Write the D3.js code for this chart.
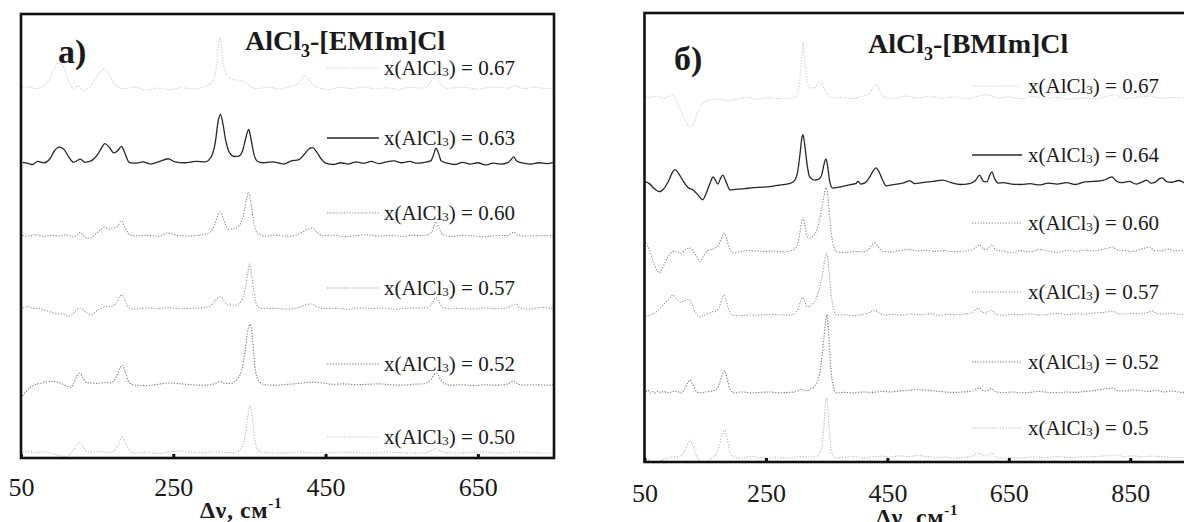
<!DOCTYPE html>
<html>
<head>
<meta charset="utf-8">
<script src="https://cdn.jsdelivr.net/npm/d3@7/dist/d3.min.js"></script>
<style>
  html, body { margin: 0; padding: 0; background: #fff; }
  svg { display: block; }
</style>
</head>
<body>
<svg id="chart" width="1184" height="522"></svg>
<script>
// ---------- data: Raman spectra, shift (cm-1) vs. relative intensity ----------
const emimShiftRange = [50, 750];
const bmimShiftRange = [50, 950];
const emimTicks = [50, 250, 450, 650];
const bmimTicks = [50, 250, 450, 650, 850];

const emimLabels = ["0.67", "0.63", "0.60", "0.57", "0.52", "0.50"];
const bmimLabels = ["0.67", "0.64", "0.60", "0.57", "0.52", "0.5"];

// vertical stacking offset of each trace (intensity units)
const emimOffsets = [83.0, 66.4, 50.0, 33.6, 16.4, 1.1];
const bmimOffsets = [80.6, 61.5, 46.8, 32.7, 15.4, 0.9];

// AlCl3-[EMIm]Cl
const emim067 = [[52,0.3],[60,0.6],[70,0.2],[80,0.9],[88,2.5],[95,5.2],[100,6.1],[106,5.0],[113,1.8],[119,0.2],[125,0.8],[132,-0.3],[140,0.5],[150,3.0],[159,4.7],[166,3.2],[174,1.0],[185,0.2],[200,0.5],[215,-0.2],[230,0.3],[245,0.0],[260,0.4],[275,0.1],[290,0.6],[300,1.5],[306,4.5],[311,11.7],[316,5.5],[323,2.7],[330,2.2],[338,2.0],[345,1.5],[352,0.6],[360,0.2],[375,0.5],[390,0.1],[405,0.8],[415,1.5],[423,3.2],[430,1.8],[440,0.4],[455,0.0],[470,0.5],[485,0.2],[500,0.6],[515,0.1],[530,0.4],[545,0.0],[560,0.5],[575,0.3],[585,0.9],[595,3.2],[602,1.0],[612,0.3],[630,0.5],[650,0.1],[670,0.6],[690,0.3],[700,0.8],[710,0.2],[725,0.5],[740,0.2],[750,0.4]];
const emim063 = [[52,0.2],[58,0],[65,-0.3],[72,0.4],[80,0.1],[88,1.0],[94,2.8],[100,3.6],[106,3.2],[112,1.6],[119,0.2],[124,0.6],[128,0.9],[134,0.2],[142,0.5],[150,1.8],[156,3.5],[160,4.4],[166,3.6],[172,2.3],[177,2.8],[182,3.8],[187,2.0],[192,0.2],[200,0.0],[210,0.3],[220,-0.2],[232,0.4],[243,1.0],[252,0.3],[265,0.1],[280,0.4],[292,0.3],[300,1.5],[305,4.5],[309,9.5],[312,11.0],[315,9.0],[319,5.0],[324,2.3],[330,1.5],[336,1.6],[341,2.8],[345,5.5],[349,7.6],[352,5.5],[356,2.0],[360,0.5],[368,0.1],[380,0.3],[395,-0.2],[405,0.5],[415,0.8],[422,2.0],[428,3.2],[433,3.5],[438,2.6],[444,1.0],[450,0.0],[460,-0.3],[470,0.1],[480,-0.2],[490,0.3],[500,0.0],[510,0.4],[520,-0.1],[530,0.3],[540,0.5],[550,0.1],[560,0.4],[570,0.0],[580,0.2],[588,0.5],[592,2.0],[595,3.4],[598,2.4],[602,0.5],[610,0.0],[620,-0.3],[630,0.2],[640,-0.2],[650,0.1],[660,-0.4],[670,0.0],[680,-0.2],[690,0.2],[694,0.9],[697,1.4],[701,0.5],[710,0.0],[720,-0.2],[730,0.1],[740,-0.1],[750,0.2]];
const emim060 = [[52,0.1],[60,0.0],[70,0.3],[80,-0.1],[90,0.2],[100,0.0],[110,0.3],[118,-0.2],[124,0.3],[128,0.8],[133,-0.3],[140,-0.5],[148,0.4],[155,1.5],[160,2.0],[166,1.5],[172,1.8],[177,2.2],[182,3.4],[187,1.8],[193,0.2],[200,0.0],[215,0.2],[230,-0.1],[243,0.7],[255,0.2],[270,0.0],[285,0.2],[298,0.8],[304,2.5],[309,4.8],[312,5.4],[316,3.8],[322,1.5],[328,1.6],[336,2.2],[342,4.5],[346,8.0],[349,9.9],[352,7.5],[356,2.8],[361,0.6],[370,0.0],[385,0.2],[400,-0.1],[412,0.3],[420,0.9],[427,1.6],[432,1.8],[438,1.0],[446,0.1],[460,0.2],[475,-0.2],[490,0.1],[505,0.3],[520,0.0],[535,0.2],[550,-0.1],[565,0.2],[578,0.1],[588,0.6],[592,2.0],[595,3.2],[599,1.8],[604,0.3],[615,-0.1],[630,0.2],[645,0.0],[660,-0.2],[675,0.1],[688,0.1],[694,0.6],[697,0.9],[702,0.2],[715,0.0],[730,0.1],[750,0.0]];
const emim057 = [[52,0.2],[58,0.5],[65,0.2],[75,0.0],[85,-0.5],[95,-1.0],[105,-1.2],[115,-1.6],[121,-0.5],[128,0.2],[134,-0.6],[142,-1.4],[150,-0.4],[160,0.4],[168,0.6],[175,1.2],[182,3.2],[187,1.8],[193,0.1],[200,-0.1],[215,0.2],[230,0.0],[245,0.3],[260,0.0],[275,0.1],[290,0.3],[300,0.8],[305,1.8],[309,2.5],[312,2.7],[316,1.9],[322,0.9],[330,0.8],[338,1.5],[343,3.5],[347,7.0],[350,10.1],[353,7.5],[357,2.5],[362,0.4],[370,0.0],[385,0.1],[400,-0.1],[415,0.3],[424,0.9],[431,1.1],[438,0.6],[448,0.0],[465,0.1],[480,-0.1],[495,0.2],[510,0.0],[525,0.2],[540,-0.1],[555,0.1],[570,0.2],[583,0.3],[590,1.2],[595,2.5],[599,1.6],[604,0.3],[615,0.0],[630,0.1],[645,-0.1],[660,0.2],[675,0.0],[688,0.2],[695,0.8],[700,1.1],[705,0.3],[715,-0.1],[725,0.1],[735,0.3],[750,0.0]];
const emim052 = [[52,-2.4],[56,-1.6],[62,-0.5],[70,0.2],[80,0.6],[90,0.9],[100,0.6],[110,-0.2],[115,-0.5],[120,0.8],[124,2.2],[127,2.7],[131,1.8],[136,0.6],[142,0.5],[150,0.4],[160,0.6],[168,0.5],[174,1.5],[179,3.5],[183,4.5],[187,3.0],[192,0.6],[200,0.0],[215,-0.1],[230,0.2],[245,0.5],[260,0.3],[275,0.1],[290,0.0],[300,0.1],[306,0.5],[312,0.8],[317,0.4],[325,0.4],[333,1.2],[340,3.5],[345,8.5],[348,12.5],[351,13.7],[354,10.5],[357,4.5],[362,1.0],[370,0.1],[385,0.0],[400,0.2],[415,0.4],[430,0.7],[445,0.5],[460,0.2],[475,0.3],[490,0.1],[505,0.2],[520,0.3],[535,0.1],[550,0.0],[565,0.2],[578,0.3],[588,1.2],[593,2.4],[596,2.7],[600,1.6],[606,0.4],[615,0.0],[630,0.1],[645,-0.1],[660,0.1],[675,0.0],[688,0.2],[694,0.7],[697,0.9],[702,0.3],[712,0.0],[725,0.1],[740,0.0],[750,0.1]];
const emim050 = [[52,0.2],[60,0.4],[70,0.1],[80,0.3],[88,0.0],[95,-0.3],[102,-0.6],[110,-0.9],[116,0.2],[121,1.2],[125,2.3],[128,2.5],[132,1.4],[138,0.3],[145,0.2],[155,0.4],[165,0.1],[173,0.6],[178,2.0],[183,3.6],[187,2.4],[193,0.6],[200,0.0],[215,0.2],[230,-0.1],[245,0.3],[260,0.5],[275,0.2],[290,0.1],[305,0.3],[320,0.1],[332,0.2],[340,1.2],[345,4.5],[348,8.5],[351,10.8],[354,8.0],[357,3.0],[362,0.6],[370,0.1],[390,0.0],[410,0.2],[430,0.1],[450,0.0],[470,0.2],[490,0.1],[510,0.0],[530,0.2],[550,0.1],[570,0.0],[585,0.3],[592,0.8],[596,1.1],[600,0.5],[610,0.1],[630,0.0],[650,0.2],[670,0.1],[690,0.0],[700,0.3],[720,0.1],[750,0.0]];

// AlCl3-[BMIm]Cl
const bmim067 = [[52,0.9],[60,0.6],[70,0.9],[80,0.4],[90,0.8],[98,1.1],[104,-0.5],[110,-2.5],[117,-4.5],[125,-6.0],[132,-5.0],[138,-2.5],[145,-0.8],[155,0.0],[170,0.2],[190,-0.1],[205,0.3],[220,0.6],[235,0.2],[250,0.5],[265,0.4],[280,0.3],[292,0.4],[300,1.0],[305,3.5],[309,9.5],[311,12.9],[314,9.0],[318,4.0],[323,2.7],[330,2.8],[336,3.6],[341,4.0],[346,2.5],[352,1.2],[360,0.5],[375,0.6],[390,0.3],[405,0.8],[418,1.2],[425,2.5],[431,3.6],[437,2.2],[445,0.6],[460,0.4],[480,0.9],[500,0.5],[520,0.8],[540,0.4],[560,0.7],[580,0.3],[600,0.9],[615,1.2],[630,0.5],[650,0.7],[670,0.3],[690,0.8],[710,0.4],[730,0.6],[750,0.2],[770,0.5],[790,0.3],[810,0.8],[825,1.2],[840,0.4],[860,0.6],[880,0.9],[900,0.4],[920,0.6],[950,0.3]];
const bmim064 = [[52,0.9],[58,0.5],[66,-0.6],[75,-1.3],[82,-0.6],[90,1.2],[96,3.0],[100,3.6],[106,2.8],[114,1.0],[122,-0.4],[130,-0.9],[138,-2.0],[146,-3.1],[152,-1.5],[158,0.6],[163,2.0],[167,1.2],[171,0.4],[175,1.6],[179,2.4],[184,1.0],[191,-0.9],[200,-0.8],[215,-0.6],[230,-0.4],[245,-0.3],[260,-0.1],[275,0.2],[288,0.5],[296,1.0],[302,3.0],[306,7.0],[309,10.5],[311,11.4],[314,9.0],[318,4.5],[322,2.0],[330,1.3],[337,1.5],[342,2.5],[346,5.0],[349,6.0],[352,4.0],[355,1.0],[360,-0.5],[370,-0.3],[380,0.0],[390,0.3],[398,0.5],[402,1.0],[406,0.4],[412,0.6],[420,1.8],[426,3.2],[431,4.0],[436,3.2],[442,1.3],[448,0.0],[460,0.3],[475,0.6],[487,1.1],[495,0.5],[510,0.8],[525,1.0],[541,1.3],[555,0.7],[570,0.3],[585,0.5],[595,1.2],[602,2.4],[608,1.0],[614,0.9],[618,2.2],[622,3.1],[627,1.5],[633,0.6],[640,0.7],[655,0.4],[670,0.3],[685,0.5],[700,0.2],[715,0.6],[730,0.4],[745,0.7],[760,0.3],[775,0.9],[790,1.0],[805,1.2],[815,1.8],[820,2.0],[826,1.2],[835,0.7],[848,1.0],[860,0.4],[870,0.9],[877,1.3],[884,0.6],[892,0.9],[898,1.6],[903,1.8],[909,1.0],[918,0.8],[930,1.2],[940,0.7],[950,0.9]];
const bmim060 = [[52,2.0],[58,0.5],[64,-2.0],[70,-4.0],[75,-4.7],[80,-3.5],[87,-1.5],[93,-0.3],[100,0.2],[110,-0.3],[118,0.5],[125,0.9],[131,0.0],[136,-1.0],[141,-2.2],[147,-1.0],[153,0.2],[160,0.5],[166,0.8],[172,1.5],[177,3.0],[181,4.2],[185,3.0],[190,0.8],[196,-0.2],[205,0.0],[220,0.3],[235,0.2],[250,0.1],[265,0.2],[280,0.0],[292,0.3],[300,1.0],[305,3.5],[309,6.8],[311,7.6],[314,6.0],[318,3.5],[322,3.1],[328,3.5],[334,5.0],[340,8.5],[345,12.0],[349,14.3],[352,12.5],[356,6.0],[361,1.5],[366,0.0],[380,-0.2],[395,0.1],[410,0.0],[418,0.4],[424,1.4],[429,2.0],[434,1.3],[441,0.2],[455,0.0],[470,0.3],[485,0.5],[500,0.2],[515,0.4],[530,0.1],[545,0.3],[560,0.0],[575,0.2],[588,0.4],[596,1.0],[602,1.6],[608,0.6],[614,0.6],[618,1.2],[622,1.6],[628,0.5],[640,0.2],[655,-0.2],[670,0.3],[685,0.0],[700,0.5],[715,0.2],[730,-0.1],[745,0.3],[760,0.1],[775,0.4],[790,0.2],[805,0.6],[815,0.9],[821,1.1],[828,0.5],[840,0.3],[855,0.1],[868,0.6],[876,0.9],[882,1.1],[888,0.4],[900,0.2],[912,0.6],[925,0.2],[940,0.4],[950,0.1]];
const bmim057 = [[52,-0.2],[60,0.1],[68,0.6],[76,1.5],[84,2.8],[90,3.5],[97,4.5],[103,3.6],[110,2.9],[116,3.2],[123,3.6],[129,2.0],[135,0.4],[141,-0.4],[147,-0.1],[153,0.3],[160,0.7],[167,0.9],[173,1.8],[177,3.5],[181,4.5],[185,3.0],[190,0.8],[196,0.0],[210,-0.1],[225,0.1],[240,0.0],[255,0.2],[270,0.1],[285,0.0],[297,0.3],[303,1.5],[307,3.0],[311,4.0],[314,3.0],[318,1.8],[322,2.0],[327,2.5],[333,3.8],[339,6.5],[344,10.0],[348,13.0],[350,13.8],[353,11.0],[357,5.0],[362,1.2],[367,0.0],[380,0.1],[395,-0.1],[410,0.2],[420,0.6],[426,1.0],[430,1.1],[436,0.5],[445,0.0],[460,0.2],[475,0.0],[490,0.3],[505,0.1],[520,0.3],[535,0.0],[550,0.2],[565,0.1],[580,0.3],[590,0.6],[596,1.3],[600,1.6],[606,0.6],[613,0.5],[618,0.9],[622,1.1],[628,0.3],[640,0.0],[655,0.2],[670,0.1],[685,0.3],[700,0.0],[715,0.2],[730,0.4],[745,0.1],[760,0.3],[775,0.2],[790,0.5],[805,0.6],[815,0.8],[821,0.9],[828,0.4],[840,0.2],[855,0.4],[868,0.3],[880,0.7],[887,0.9],[893,0.4],[905,0.2],[918,0.5],[930,0.2],[950,0.3]];
const bmim052 = [[52,0.2],[56,0.5],[60,-0.1],[64,0.3],[68,0.0],[72,0.4],[76,0.1],[82,0.3],[88,0.0],[95,0.2],[102,0.4],[110,0.0],[116,0.8],[121,2.2],[125,2.9],[129,2.0],[134,0.6],[140,0.0],[147,0.1],[155,0.3],[162,0.4],[170,1.0],[175,2.8],[179,4.3],[182,4.9],[186,3.2],[191,0.8],[197,0.0],[210,0.2],[225,0.0],[240,0.1],[255,0.2],[270,0.0],[285,0.1],[297,0.2],[303,0.5],[308,0.8],[313,0.6],[318,0.5],[323,0.8],[330,1.5],[336,3.0],[341,6.5],[345,11.5],[348,15.5],[350,17.4],[353,14.0],[356,7.0],[360,2.0],[366,0.0],[380,0.1],[395,0.0],[410,0.2],[425,0.1],[440,0.3],[455,0.2],[470,0.4],[485,0.6],[500,0.7],[515,0.6],[530,0.4],[545,0.2],[560,0.1],[575,0.2],[590,0.4],[597,0.9],[602,1.1],[608,0.5],[614,0.4],[618,0.8],[622,0.9],[628,0.3],[640,0.0],[655,0.2],[670,0.0],[685,0.1],[700,0.3],[715,0.1],[730,0.0],[745,0.2],[760,0.1],[775,0.3],[790,0.5],[805,0.8],[815,1.0],[821,1.1],[828,0.6],[840,0.4],[855,0.7],[868,0.5],[880,0.3],[893,0.6],[905,0.2],[920,0.4],[935,0.1],[950,0.2]];
const bmim050 = [[52,0.0],[58,-0.5],[65,-1.0],[72,-1.1],[80,-0.4],[88,0.0],[96,0.2],[104,0.3],[110,0.5],[116,1.5],[121,3.0],[125,4.0],[129,3.0],[134,1.0],[140,-0.5],[146,-1.0],[150,-1.1],[156,-0.5],[162,0.0],[168,0.8],[173,2.5],[177,4.8],[182,6.2],[186,4.5],[190,1.6],[196,0.2],[210,0.0],[225,0.3],[240,0.1],[255,0.0],[270,0.2],[285,0.0],[298,0.2],[310,0.3],[322,0.2],[333,0.4],[340,1.5],[344,5.0],[347,10.0],[349,13.0],[350,13.4],[352,11.0],[355,5.0],[358,1.5],[364,0.0],[380,0.1],[395,0.3],[410,0.0],[425,0.2],[440,0.4],[455,0.2],[470,0.5],[485,0.3],[500,0.6],[515,0.3],[530,0.1],[545,0.2],[560,0.0],[575,0.1],[590,0.4],[597,0.9],[601,1.1],[607,0.5],[613,0.5],[618,0.9],[622,1.1],[628,0.3],[640,0.0],[655,0.1],[670,0.0],[690,0.2],[710,0.1],[730,0.3],[750,0.1],[770,0.2],[790,0.3],[810,0.5],[825,0.7],[840,0.3],[855,0.5],[870,0.2],[885,0.4],[900,0.3],[920,0.1],[950,0.2]];

const emimSpectra = [emim067, emim063, emim060, emim057, emim052, emim050];
const bmimSpectra = [bmim067, bmim064, bmim060, bmim057, bmim052, bmim050];

// ---------- drawing ----------
const svg = d3.select("#chart");
const serif = "Liberation Serif, DejaVu Serif, Tinos, Times New Roman, serif";

// trace styles, top to bottom
const traceStyles = [
  { color: "#cdcdcd", dash: "1.3 1.5", width: 1.1 },
  { color: "#262626", dash: null,      width: 1.3 },
  { color: "#8c8c8c", dash: "1.3 1.5", width: 1.1 },
  { color: "#9b9b9b", dash: "1.3 1.5", width: 1.1 },
  { color: "#7c7c7c", dash: "1.3 1.5", width: 1.1 },
  { color: "#bdbdbd", dash: "1.3 1.5", width: 1.1 }
];

const panels = [
  {
    id: "emim", letter: "a)", compound: "-[EMIm]Cl",
    domain: emimShiftRange, ticks: emimTicks, labels: emimLabels,
    offsets: emimOffsets, spectra: emimSpectra,
    left: 21, right: 554, top: 14, bottom: 458,
    letterPos: [58, 63], titlePos: [245, 50],
    legLine: [327, 379], legText: 384, legY: [68, 138, 213, 288, 364, 437],
    tickPad: 20, axisTitle: [241, 518]
  },
  {
    id: "bmim", letter: "б)", compound: "-[BMIm]Cl",
    domain: bmimShiftRange, ticks: bmimTicks, labels: bmimLabels,
    offsets: bmimOffsets, spectra: bmimSpectra,
    left: 644.5, right: 1191, top: 13, bottom: 462,
    letterPos: [674, 70], titlePos: [868, 53],
    legLine: [972, 1022], legText: 1028, legY: [86, 155, 223, 292, 362, 428],
    tickPad: 22, axisTitle: [917, 525]
  }
];

panels.forEach(p => {
  const x = d3.scaleLinear().domain(p.domain).range([p.left, p.right]);
  const y = d3.scaleLinear().domain([0, 100]).range([p.bottom, p.top]);
  const g = svg.append("g").attr("class", "panel-" + p.id)
    .attr("font-family", serif).attr("fill", "#1a1a1a");

  g.append("clipPath").attr("id", "clip-" + p.id)
    .append("rect")
    .attr("x", p.left).attr("y", p.top)
    .attr("width", p.right - p.left).attr("height", p.bottom - p.top);

  // stacked spectra
  const traces = g.append("g").attr("clip-path", `url(#clip-${p.id})`);
  p.spectra.forEach((spec, i) => {
    const st = traceStyles[i];
    const line = d3.line()
      .x(d => x(d[0]))
      .y(d => y(p.offsets[i] + d[1]))
      .curve(d3.curveMonotoneX);
    traces.append("path")
      .datum(spec)
      .attr("d", line)
      .attr("fill", "none")
      .attr("stroke", st.color)
      .attr("stroke-width", st.width)
      .attr("stroke-dasharray", st.dash)
      .attr("stroke-linejoin", "round");
  });

  // frame
  g.append("rect")
    .attr("x", p.left).attr("y", p.top)
    .attr("width", p.right - p.left).attr("height", p.bottom - p.top)
    .attr("fill", "none").attr("stroke", "#111").attr("stroke-width", 2.6);

  // bottom axis: short inside ticks, labels well below the frame
  const axis = d3.axisBottom(x).tickValues(p.ticks).tickSize(-4)
    .tickPadding(p.tickPad).tickFormat(d3.format("d"));
  const ax = g.append("g").attr("transform", `translate(0,${p.bottom})`).call(axis);
  ax.attr("font-family", serif);
  ax.select(".domain").remove();
  ax.selectAll(".tick line").attr("stroke", "#111").attr("stroke-width", 3);
  ax.selectAll(".tick text")
    .attr("font-family", serif).attr("font-size", 26).attr("fill", "#1a1a1a");

  // axis title
  const at = g.append("text")
    .attr("x", p.axisTitle[0]).attr("y", p.axisTitle[1])
    .attr("text-anchor", "middle")
    .attr("font-weight", "bold").attr("font-size", 24)
    .attr("letter-spacing", 0.6);
  at.append("tspan").text("Δν, см");
  at.append("tspan").attr("font-size", 15).attr("dy", -10).text("-1");

  // panel letter
  g.append("text")
    .attr("x", p.letterPos[0]).attr("y", p.letterPos[1])
    .attr("font-weight", "bold").attr("font-size", 34)
    .text(p.letter);

  // system title
  const t = g.append("text")
    .attr("x", p.titlePos[0]).attr("y", p.titlePos[1])
    .attr("font-weight", "bold").attr("font-size", 28);
  t.append("tspan").text("AlCl");
  t.append("tspan").attr("font-size", 18).attr("dy", 7).text("3");
  t.append("tspan").attr("dy", -7).text(p.compound);

  // legend
  p.labels.forEach((lab, i) => {
    const st = traceStyles[i];
    const ly = p.legY[i];
    g.append("line")
      .attr("x1", p.legLine[0]).attr("x2", p.legLine[1])
      .attr("y1", ly).attr("y2", ly)
      .attr("stroke", st.color).attr("stroke-width", st.width)
      .attr("stroke-dasharray", st.dash);
    const lt = g.append("text")
      .attr("x", p.legText).attr("y", ly + 7)
      .attr("font-size", 21);
    lt.append("tspan").text("x(AlCl");
    lt.append("tspan").attr("font-size", 13).attr("dy", 1).text("3");
    lt.append("tspan").attr("dy", -1).text(") = " + lab);
  });
});
</script>
</body>
</html>
